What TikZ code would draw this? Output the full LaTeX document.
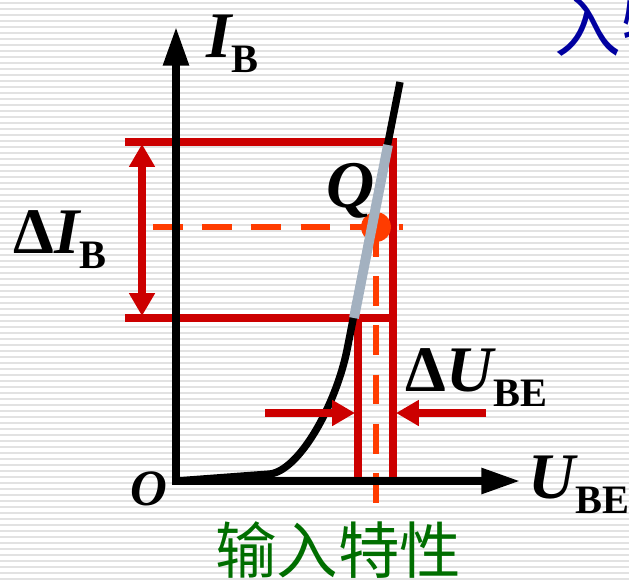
\documentclass[tikz,border=0pt]{standalone}
\usepackage{fontspec}
\setmainfont{Liberation Serif}
\newfontfamily\cjk{Noto Sans CJK SC}
\usetikzlibrary{arrows.meta}
\definecolor{dimred}{RGB}{204,0,0}
\definecolor{qorange}{RGB}{255,60,0}
\definecolor{seggray}{RGB}{163,177,192}
\definecolor{capgreen}{RGB}{0,110,0}
\definecolor{titleblue}{RGB}{0,0,160}
\definecolor{stripegray}{RGB}{226,226,226}
\newcommand\qsub[2]{{\itshape #1}{\fontsize{23}{23}\selectfont\raisebox{-9pt}{#2}}}

\begin{document}
\begin{tikzpicture}[x=0.02cm,y=-0.02cm,
  axis/.style={line width=4pt, -{Triangle[length=22pt,width=14pt]}},
  redline/.style={dimred, line width=4pt},
  dimarr/.style={dimred, line width=4pt, -{Triangle[length=13pt,width=14pt]}},
  dashq/.style={qorange, line width=3.6pt, dash pattern=on 17pt off 11pt},
  lbl/.style={inner sep=0pt, anchor=base west, font=\fontsize{37}{37}\selectfont\bfseries},
]
  \useasboundingbox (0,0) rectangle (629,582);
  \fill[white] (0,0) rectangle (629,582);
  \foreach \y in {3,9,...,579}
    \draw[stripegray, line width=1.1pt] (0,\y) -- (629,\y);

  % points
  \coordinate (O) at (176,481);
  \coordinate (ytop) at (176,27);
  \coordinate (xend) at (520,481);
  \coordinate (k1) at (270,474);
  \coordinate (k2) at (347,350);
  \coordinate (ktop) at (400,82);
  \coordinate (sa) at (388,145);
  \coordinate (sb) at (354,318);
  \coordinate (tl) at (125,142);
  \coordinate (tr) at (397,142);
  \coordinate (bl) at (125,318);
  \coordinate (br) at (397,318);
  \coordinate (vl) at (358,481);
  \coordinate (vlt) at (358,318);
  \coordinate (vr) at (393,481);
  \coordinate (vrt) at (393,140);

  % red lines
  \draw[redline] (tl) -- (tr);
  \draw[redline] (bl) -- (br);
  \draw[redline] (vlt) -- (vl);
  \draw[redline] (vrt) -- (vr);

  % Q point
  \node[circle, fill=qorange, minimum size=17pt, inner sep=0pt] (Q) at (376,227) {};
  \coordinate (qh) at (153,227);
  \coordinate (qhe) at (403,227);
  \coordinate (qv) at (376,503);
  \draw[dashq] (qh) -- (qhe);
  \draw[dashq] (Q.center) -- (qv);

  % axes and curve
  \draw[axis] ([yshift=-2pt]O) -- (ytop);
  \draw[axis] ([xshift=-2pt]O) -- (xend);
  \draw[line width=4.2pt] (O) -- (k1) .. controls (300,470) and (336,404) .. (k2) -- (ktop);
  \draw[seggray, line width=5.6pt] (sa) -- (sb);

  % increments
  \draw[dimarr, {Triangle[length=13pt,width=14pt]}-{Triangle[length=13pt,width=14pt]}] (142,144) -- (142,316);
  \coordinate (al) at (265,413);
  \coordinate (ar) at (486,413);
  \draw[dimarr] (al) -- (355,413);
  \draw[dimarr] (ar) -- (396,413);

  % labels
  \node[lbl] (IB) at (206,57) {\qsub{I}{B}};
  \node[lbl] (dIB) at (13,253) {Δ\qsub{I}{B}};
  \node[lbl] (UBE) at (528,498) {\qsub{U}{BE}};
  \node[lbl] (dUBE) at (405,391) {Δ\qsub{U}{BE}};
  \node[lbl, font=\fontsize{29}{29}\selectfont\bfseries\itshape] (Olbl) at (130,505) {O};
  \node[lbl, font=\fontsize{38}{38}\selectfont\bfseries\itshape] (Qlbl) at (326,207) {Q};
  \node[font=\cjk\fontsize{35}{35}\selectfont, text=capgreen] (cap) at (338,550) {输入特性};
  \node[anchor=west, inner sep=0pt, font=\cjk\fontsize{38}{38}\selectfont, text=titleblue] (title) at (554,26) {入特};
\end{tikzpicture}
\end{document}
